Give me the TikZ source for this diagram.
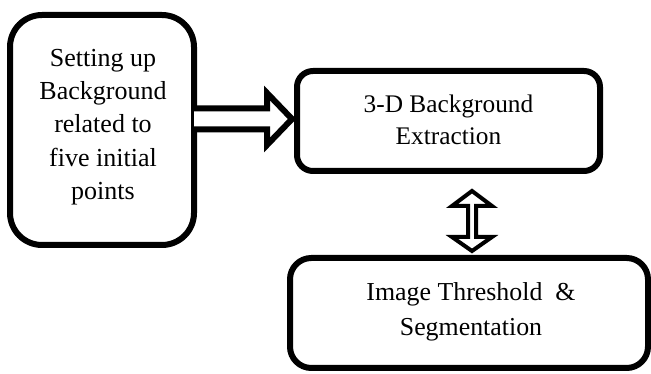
\documentclass[tikz,border=0pt]{standalone}
\usepackage{fontspec}
\setmainfont{Liberation Serif}
\usetikzlibrary{calc}
\begin{document}
\begin{tikzpicture}[x=0.75pt,y=-0.75pt,
  stage/.style={draw=black,line width=4.5pt,fill=white,inner sep=0pt},
  label/.style={inner sep=0pt,align=center},
  hollow/.style={draw=black,fill=white,line join=miter}]
\useasboundingbox (0,0) rectangle (651,374);

% process boxes
\node[stage,rounded corners=24pt,minimum width=138pt,minimum height=172.5pt] (b1) at (102,130) {};
\node[stage,rounded corners=12pt,minimum width=227.25pt,minimum height=75pt] (b2) at (448.5,121) {};
\node[stage,rounded corners=16pt,minimum width=268.5pt,minimum height=82.5pt] (b3) at (469,313) {};

% box captions
\node[label,font=\fontsize{19.5pt}{25pt}\selectfont] (t1) at ($(b1.center)+(1,-3)$) {Setting up\\Background\\related to\\five initial\\points};
\node[label,font=\fontsize{19pt}{24pt}\selectfont] (t2) at ($(b2.center)+(0,-1)$) {3-D Background\\Extraction};
\node[label,font=\fontsize{19.4pt}{26pt}\selectfont] (t3) at ($(b3.center)+(2,-1.5)$) {Image Threshold\ \ \&\\Segmentation};

% hollow block arrow from the first box to the second
\coordinate (s1) at ($(b1.east)+(0,-11)$);
\coordinate (tip1) at (b2.west |- s1);
\draw[hollow,line width=4.5pt] ($(s1)+(-3,-10.5)$) -- ($(tip1)+(-27,-10.5)$) -- ($(tip1)+(-27,-26)$)
  -- ($(tip1)+(-2,0)$) -- ($(tip1)+(-27,26)$) -- ($(tip1)+(-27,10.5)$) -- ($(s1)+(-3,10.5)$);

% hollow double-headed arrow between the second and third boxes
\coordinate (top2) at (472,0);
\coordinate (up) at (top2 |- b2.south);
\coordinate (dn) at (top2 |- b3.north);
\draw[hollow,line width=3pt] ($(up)+(0,17)$) -- ($(up)+(20,32)$) -- ($(up)+(4,32)$) -- ($(dn)+(4,-18)$)
  -- ($(dn)+(20,-18)$) -- ($(dn)+(0,-4)$) -- ($(dn)+(-20,-18)$) -- ($(dn)+(-4,-18)$)
  -- ($(up)+(-4,32)$) -- ($(up)+(-20,32)$) -- cycle;
\end{tikzpicture}
\end{document}
